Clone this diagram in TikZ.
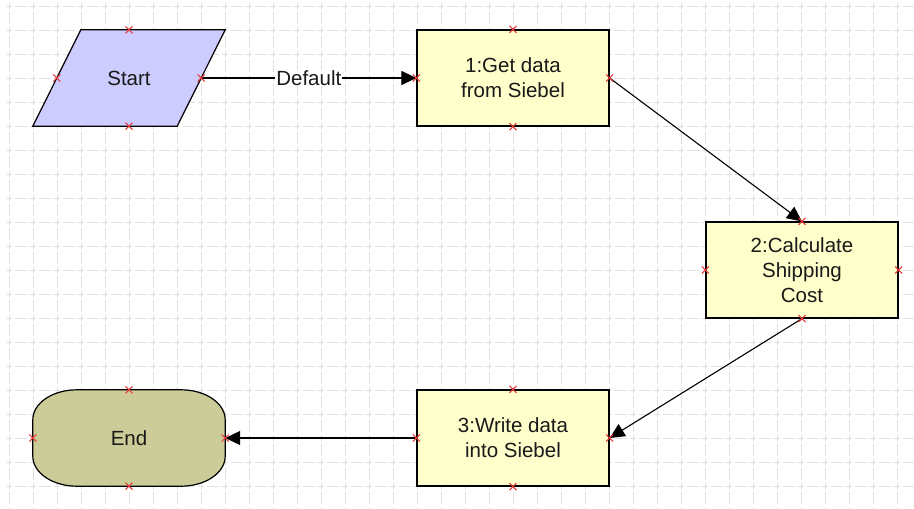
\documentclass[tikz,border=0pt]{standalone}
\usepackage{fontspec}
\setmainfont{Liberation Sans}
\usetikzlibrary{arrows.meta,backgrounds}
\definecolor{boxfill}{HTML}{FFFFCC}
\definecolor{startfill}{HTML}{CCCCFF}
\definecolor{endfill}{HTML}{CCCC99}
\definecolor{gridc}{HTML}{E0E0E0}
\definecolor{xred}{HTML}{E8373A}
\tikzset{
  xm/.pic={\draw[xred, line width=1pt] (-3.5pt,-3.5pt) -- (3.5pt,3.5pt) (-3.5pt,3.5pt) -- (3.5pt,-3.5pt);},
  lbl/.style={font=\fontsize{20.5}{25}\selectfont, align=center, text=black!90},
  procbox/.style={lbl, draw=black, line width=1.2pt, fill=boxfill, minimum width=192pt, minimum height=96pt, inner sep=0pt},
  frame/.style={lbl, minimum height=96pt, inner sep=0pt},
  conn/.style={line width=1.1pt, -{Triangle[length=15pt,width=14pt]}},
  gridline/.style={gridc, line width=1pt, dash pattern=on 6pt off 3pt on 12pt off 3pt},
  outline/.style={draw=black, line width=1.2pt},
}
\begin{document}
\begin{tikzpicture}[x=1pt,y=-1pt]
\useasboundingbox (0,0) rectangle (914,509);

\node[frame, minimum width=144pt] (start) at (129,78) {Start};
\node[procbox] (b1) at (513,78) {1:Get data\\from Siebel};
\node[procbox] (b2) at (802,270) {2:Calculate\\Shipping\\Cost};
\node[procbox] (b3) at (513,438) {3:Write data\\into Siebel};
\node[frame, minimum width=192pt] (end) at (129,438) {End};

\begin{scope}[on background layer]
  \fill[white] (0,0) rectangle (914,509);
  \foreach \y in {6,30,...,486} \draw[gridline] (6,\y) -- (914,\y);
  \foreach \x in {9,33,...,897} \draw[gridline] (\x,3) -- (\x,509);
  \path[outline, fill=startfill]
    ([xshift=24pt]start.north west) -- ([xshift=24pt]start.north east)
    -- ([xshift=-24pt]start.south east) -- ([xshift=-24pt]start.south west) -- cycle;
  \path[outline, fill=endfill]
    ([xshift=44pt]end.north west) -- ([xshift=-44pt]end.north east)
    arc[start angle=90, end angle=0, x radius=44pt, y radius=30pt]
    -- ([yshift=30pt]end.south east)
    arc[start angle=0, end angle=-90, x radius=44pt, y radius=30pt]
    -- ([xshift=44pt]end.south west)
    arc[start angle=-90, end angle=-180, x radius=44pt, y radius=30pt]
    -- ([yshift=-30pt]end.north west)
    arc[start angle=180, end angle=90, x radius=44pt, y radius=30pt]
    -- cycle;
\end{scope}

\draw[conn] (start.east) -- node[lbl, fill=white, inner xsep=1pt, inner ysep=0pt] {Default} (b1.west);
\draw[conn] (b1.east) -- (b2.north);
\draw[conn] (b2.south) -- (b3.east);
\draw[conn] (b3.west) -- (end.east);

\foreach \n in {start,b1,b2,b3,end}
  \foreach \a in {north,south,east,west}
    \path (\n.\a) pic{xm};
\end{tikzpicture}
\end{document}
